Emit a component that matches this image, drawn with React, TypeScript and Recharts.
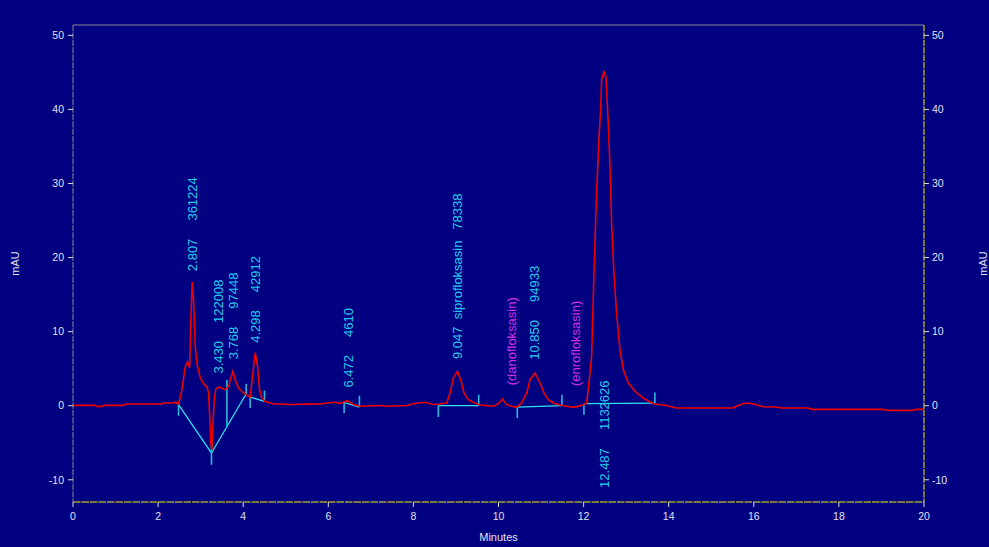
import React from "react";
import { ComposedChart, Line, Scatter, XAxis, YAxis, ReferenceLine } from "recharts";

// chromatogram trace, minutes vs mAU
const time = [
  0, 0.52, 0.56, 0.68, 0.72, 1.19, 1.23, 2.09, 2.13, 2.36, 2.4, 2.45,
  2.481, 2.56, 2.638, 2.693, 2.74, 2.772, 2.802, 2.833, 2.873, 2.912, 2.99, 3.069,
  3.146, 3.185, 3.209, 3.24, 3.264, 3.287, 3.319, 3.358, 3.42, 3.498, 3.577, 3.656,
  3.711, 3.758, 3.812, 3.89, 4.008, 4.11, 4.164, 4.227, 4.282, 4.338, 4.385, 4.439,
  4.517, 4.713, 5.103, 5.5, 5.806, 6.125, 6.275, 6.45, 6.594, 6.744, 7.222, 7.372,
  7.84, 8.0, 8.279, 8.468, 8.628, 8.783, 8.862, 8.94, 9.034, 9.112, 9.19, 9.292,
  9.409, 9.566, 9.879, 9.997, 10.09, 10.193, 10.311, 10.428, 10.545, 10.664, 10.741, 10.858,
  10.976, 11.069, 11.171, 11.289, 11.445, 11.602, 11.758, 11.993, 12.072, 12.15, 12.189, 12.244,
  12.307, 12.368, 12.4, 12.424, 12.478, 12.526, 12.58, 12.62, 12.658, 12.713, 12.776, 12.854,
  12.933, 13.049, 13.207, 13.401, 13.636, 13.95, 14.18, 15.51, 15.63, 15.75, 15.87, 15.98,
  16.14, 16.22, 16.53, 16.65, 17.28, 17.36, 19.04, 19.12, 19.74, 19.82, 20,
];
const signal = [
  0.04, 0.04, -0.09, -0.09, 0.04, 0.04, 0.23, 0.23, 0.36, 0.36, 0.5, 0.3,
  0.23, 2.17, 5.28, 5.98, 5.08, 12.09, 16.7, 14.3, 7.98, 5.78, 3.78, 2.98,
  2.57, 1.77, -0.93, -5.04, -5.95, -2.79, 0.81, 2.27, 2.52, 2.37, 2.17, 2.57,
  3.78, 4.63, 3.47, 2.37, 1.72, 1.37, 1.17, 4.38, 7.18, 5.28, 2.17, 1.07,
  0.57, 0.27, 0.17, 0.22, 0.23, 0.47, 0.32, 0.67, 0.17, -0.08, 0.02, -0.08,
  0.02, 0.27, 0.47, 0.17, 0.23, 0.37, 1.72, 3.75, 4.64, 3.51, 1.72, 0.81,
  0.45, 0.09, -0.08, 0.27, 0.9, 0.14, -0.08, -0.22, 0.37, 1.72, 3.51, 4.42,
  3.07, 1.72, 0.81, 0.37, 0.09, -0.08, -0.22, 0.09, 0.37, 4.37, 6.68, 17.9,
  29.1, 36.8, 39.9, 44.0, 45.1, 44.4, 38.1, 32.3, 24.7, 17.9, 12.5, 7.6,
  4.9, 3.1, 1.95, 1.04, 0.27, 0.04, -0.31, -0.31, 0.04, 0.27, 0.36, 0.27,
  0, -0.14, -0.18, -0.31, -0.31, -0.49, -0.49, -0.63, -0.63, -0.49, -0.49,
];

// peak annotations
const peakTimes = [2.807, 3.43, 3.768, 4.298, 6.472, 9.047, 10.31, 10.85, 11.8, 12.487];
const peakRt = ["2.807", "3.430", "3.768", "4.298", "6.472", "9.047", "", "10.850", "", "12.487"];
const peakNames = ["", "", "", "", "", "siprofloksasin", "(danofloksasin)", "", "(enrofloksasin)", ""];
const peakAreas = ["361224", "122008", "97448", "42912", "4610", "78338", "", "94933", "", "1132626"];

// integration baselines [tStart, vStart, tEnd, vEnd]
const baselines = [
  [2.48, 0.14, 3.255, -6.39],
  [3.255, -6.39, 4.07, 1.62],
  [4.164, 1.17, 4.5, 0.58],
  [6.372, 0.45, 6.731, -0.18],
  [8.586, 0, 9.535, 0],
  [10.441, -0.18, 11.491, 0],
  [12.008, 0.27, 13.675, 0.36],
];
// peak start / end marks [t, vFrom, vTo]
const marks = [
  [2.48, 0.41, -1.35],
  [3.255, -5.04, -7.97],
  [3.617, 3.51, -2.8],
  [4.07, 2.97, 1.49],
  [4.164, 1.17, -0.31],
  [4.5, 2.03, 0.72],
  [6.372, 0.45, -0.99],
  [6.731, 1.35, -0.18],
  [8.586, 0, -1.53],
  [9.535, 1.49, 0],
  [10.441, -0.18, -1.66],
  [11.491, 1.49, 0],
  [12.008, 0.27, -1.22],
  [13.675, 1.8, 0.36],
];

const xTicks = [0, 2, 4, 6, 8, 10, 12, 14, 16, 18, 20];
const yTicks = [-10, 0, 10, 20, 30, 40, 50];
const Y_MIN = -13;
const Y_MAX = 51.4;

const BG = "#000080";
const RED = "#ee0000";
const CYAN = "#26cdf0";
const CYAN_LINE = "#2fe3ee";
const CYAN_MARK = "#28b8dc";
const MAGENTA = "#d030e0";
const YELLOW = "#f4f000";
const GREY = "#8c8c8c";
const TEXT = "#e2e2f2";
const FONT = "'Liberation Sans', Arial, sans-serif";

const trace = time.map((t, i) => ({ t, v: signal[i] }));

function valueAt(t: number) {
  for (let i = 1; i < time.length; i++) {
    if (time[i] >= t) {
      const f = (t - time[i - 1]) / (time[i] - time[i - 1]);
      return signal[i - 1] + f * (signal[i] - signal[i - 1]);
    }
  }
  return signal[signal.length - 1];
}

const labels = peakTimes.map((t, i) => {
  const h = valueAt(t);
  return {
    t,
    // tall peak: label goes under the baseline
    v: h > 30 ? -11.1 : h + 1.85,
    text: `${peakRt[i]}  ${peakNames[i]}   ${peakAreas[i]}`,
    missing: peakNames[i].startsWith("("),
  };
});

const PeakLabel = (props: any) => {
  const { cx, cy, payload } = props;
  return (
    <text
      x={cx}
      y={cy}
      transform={`rotate(-90 ${cx} ${cy})`}
      fill={payload.missing ? MAGENTA : CYAN}
      fontSize={13}
      fontFamily={FONT}
      dominantBaseline="central"
      xmlSpace="preserve"
      style={{ whiteSpace: "pre" }}
    >
      {payload.text}
    </text>
  );
};

const leftTitle = (props: any) => {
  const vb = props.viewBox;
  const x = vb.x + 15;
  const y = vb.y + vb.height / 2;
  return (
    <text x={x} y={y} transform={`rotate(-90 ${x} ${y})`} textAnchor="middle" dominantBaseline="central" fill={TEXT} fontSize={11} fontFamily={FONT}>
      mAU
    </text>
  );
};

const rightTitle = (props: any) => {
  const vb = props.viewBox;
  const x = vb.x + 59;
  const y = vb.y + vb.height / 2;
  return (
    <text x={x} y={y} transform={`rotate(-90 ${x} ${y})`} textAnchor="middle" dominantBaseline="central" fill={TEXT} fontSize={11} fontFamily={FONT}>
      mAU
    </text>
  );
};

const bottomTitle = (props: any) => {
  const vb = props.viewBox;
  return (
    <text x={vb.x + vb.width / 2} y={vb.y + 39} textAnchor="middle" fill={TEXT} fontSize={11} fontFamily={FONT}>
      Minutes
    </text>
  );
};

const tickStyle = { fill: TEXT, fontSize: 10.5, fontFamily: FONT };

export default function App() {
  return (
    <div style={{ position: "absolute", left: 0, top: 0, width: 989, height: 547, background: BG }}>
      <ComposedChart width={989} height={547} margin={{ top: 25, right: 0, bottom: 0, left: 0 }}>
        <XAxis
          dataKey="t"
          type="number"
          domain={[0, 20]}
          ticks={xTicks}
          allowDataOverflow
          height={45}
          tickSize={5}
          tickMargin={6}
          tick={tickStyle}
          tickLine={{ stroke: "#d8d8d8" }}
          axisLine={{ stroke: YELLOW, strokeDasharray: "7.5 1" }}
          label={bottomTitle}
        />
        <YAxis
          type="number"
          domain={[Y_MIN, Y_MAX]}
          ticks={yTicks}
          allowDataOverflow
          width={73}
          tickSize={5}
          tickMargin={4}
          tick={tickStyle}
          tickLine={{ stroke: "#d8d8d8" }}
          axisLine={{ stroke: GREY, strokeDasharray: "6.4 1" }}
          label={leftTitle}
        />
        <YAxis
          yAxisId="right"
          orientation="right"
          type="number"
          domain={[Y_MIN, Y_MAX]}
          ticks={yTicks}
          allowDataOverflow
          width={65}
          tickSize={5}
          tickMargin={3}
          tick={tickStyle}
          tickLine={{ stroke: "#d8d8d8" }}
          axisLine={{ stroke: YELLOW, strokeDasharray: "6.4 1" }}
          label={rightTitle}
        />
        <ReferenceLine y={Y_MAX} stroke={GREY} strokeWidth={1.2} />
        {baselines.map((b, i) => (
          <ReferenceLine
            key={`b${i}`}
            segment={[{ x: b[0], y: b[1] }, { x: b[2], y: b[3] }]}
            stroke={CYAN_LINE}
            strokeWidth={1.3}
          />
        ))}
        {marks.map((m, i) => (
          <ReferenceLine
            key={`m${i}`}
            segment={[{ x: m[0], y: m[1] }, { x: m[0], y: m[2] }]}
            stroke={CYAN_MARK}
            strokeWidth={1.6}
          />
        ))}
        <Line
          data={trace}
          dataKey="v"
          type="linear"
          stroke={RED}
          strokeWidth={1.6}
          dot={false}
          isAnimationActive={false}
        />
        <Scatter
          yAxisId="right"
          data={labels}
          dataKey="v"
          shape={PeakLabel}
          isAnimationActive={false}
        />
      </ComposedChart>
    </div>
  );
}
